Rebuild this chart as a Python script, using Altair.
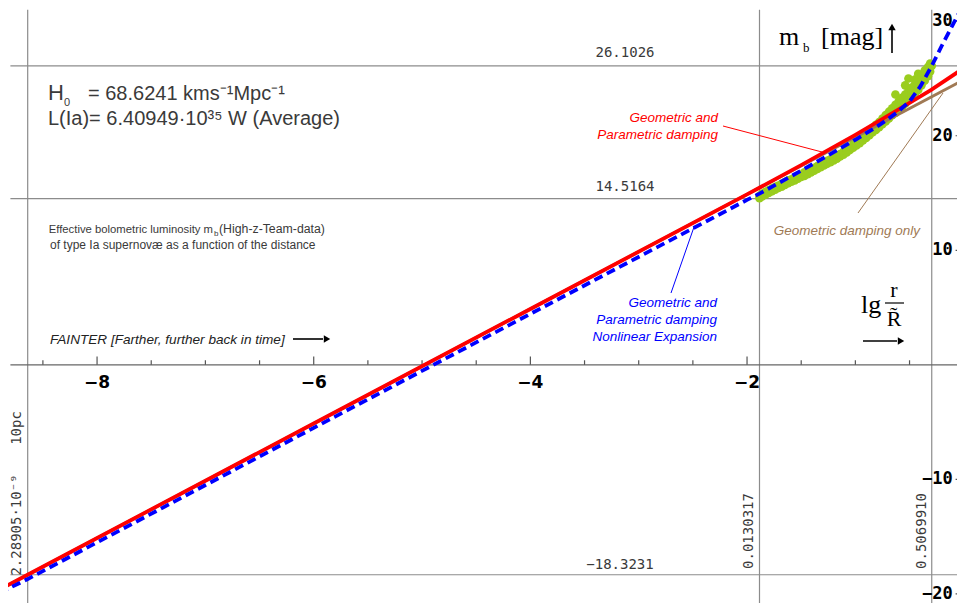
import altair as alt
import pandas as pd

# ---------------- data ----------------
X_DOMAIN = [-8.896, 0.012]
Y_DOMAIN = [-20.79, 31.85]
W, H = 965, 603

red_x = [-8.9, -8.6403, -6.0, -4.0, -2.0, -1.5, -1.0, -0.6, -0.3, 0.0, 0.02]
red_y = [-19.62, -18.32, -5.12, 4.88, 14.88, 17.43, 20.08, 22.30, 24.00, 25.90, 26.05]

brown_x = [-8.9, 0.02]
brown_y = [-19.62, 24.98]

blue_x = [-8.9, -8.64, -6.0, -4.0, -2.0, -1.885, -1.5, -1.0, -0.8, -0.7, -0.6,
          -0.5, -0.4, -0.295, -0.2, -0.1, 0.0, 0.02]
blue_y = [-19.9, -18.7, -5.5, 4.45, 14.4, 14.95, 16.95, 19.65, 20.8, 21.45, 22.15,
          23.0, 24.3, 26.1, 27.9, 29.7, 31.5, 31.9]

green_x = [-1.885, -1.885, -1.86, -1.86, -1.83, -1.83, -1.80, -1.80, -1.77, -1.77,
           -1.74, -1.74, -1.71, -1.71, -1.68, -1.68, -1.65, -1.65, -1.62, -1.62,
           -1.59, -1.59, -1.56, -1.56, -1.53, -1.53, -1.50, -1.50, -1.47, -1.47,
           -1.44, -1.44, -1.41, -1.41, -1.38, -1.38, -1.35, -1.35, -1.32, -1.32,
           -1.29, -1.29, -1.26, -1.26, -1.23, -1.23, -1.20, -1.20, -1.17, -1.17,
           -1.14, -1.14, -1.11, -1.11, -1.08, -1.08, -1.05, -1.05, -1.02, -1.02,
           -0.99, -0.99, -0.96, -0.96, -0.93, -0.93, -0.90, -0.90, -0.87, -0.87,
           -0.84, -0.84, -0.81, -0.81, -0.78, -0.78, -0.75, -0.75,
           -0.72, -0.72, -0.72, -0.69, -0.69, -0.69, -0.66, -0.66, -0.66,
           -0.63, -0.63, -0.63, -0.60, -0.60, -0.60, -0.57, -0.57, -0.57,
           -0.54, -0.54, -0.54, -0.51, -0.51, -0.51, -0.48, -0.48, -0.48,
           -0.45, -0.45, -0.45, -0.42, -0.42, -0.42, -0.39, -0.39, -0.39,
           -0.36, -0.36, -0.36, -0.33, -0.33, -0.33, -0.31, -0.31, -0.295]
green_y = [14.55, 14.75, 14.70, 14.95, 14.85, 15.10, 15.00, 15.25, 15.15, 15.40,
           15.30, 15.55, 15.45, 15.65, 15.55, 15.80, 15.70, 15.95, 15.85, 16.10,
           16.00, 16.20, 16.10, 16.35, 16.25, 16.50, 16.40, 16.60, 16.50, 16.80,
           16.65, 16.90, 16.80, 17.05, 16.95, 17.20, 17.10, 17.35, 17.25, 17.45,
           17.40, 17.60, 17.55, 17.80, 17.70, 17.95, 17.85, 18.10, 18.00, 18.25,
           18.20, 18.40, 18.35, 18.60, 18.55, 18.80, 18.75, 19.00, 18.95, 19.25,
           19.15, 19.50, 19.35, 19.70, 19.60, 19.95, 19.80, 20.20, 20.05, 20.45,
           20.30, 20.70, 20.50, 20.95, 20.75, 21.20, 21.00, 21.50,
           21.25, 21.80, 21.50, 21.50, 22.10, 21.75, 21.80, 22.40, 22.10,
           22.00, 22.70, 23.60, 22.30, 23.00, 22.60, 22.50, 23.30, 22.90,
           22.80, 23.60, 24.40, 23.10, 23.90, 25.00, 23.40, 24.20, 23.80,
           23.70, 24.50, 24.90, 24.00, 24.90, 25.40, 24.40, 25.30, 24.80,
           24.80, 25.70, 25.30, 25.20, 26.00, 25.60, 25.60, 26.30, 26.10]

h_lines = [26.1026, 14.5164, -18.3231]
v_lines = [-8.64034, -1.88500, -0.29500]

x_ticks = [-8.5, -8.0, -7.5, -7.0, -6.5, -6.0, -5.5, -5.0, -4.5, -4.0, -3.5,
           -3.0, -2.5, -2.0, -1.5, -1.0, -0.5]
x_label_at = [-8, -6, -4, -2]
x_labels = ["\u22128", "\u22126", "\u22124", "\u22122"]

y_ticks = [-20, -18, -16, -14, -12, -10, -8, -6, -4, -2, 2, 4, 6, 8, 10, 12,
           14, 16, 18, 20, 22, 24, 26, 28, 30]
y_label_at = [30, 20, 10, -10, -20]
y_labels = ["30", "20", "10", "\u221210", "\u221220"]

# ---------------- helpers ----------------
xsc = alt.Scale(domain=X_DOMAIN, nice=False, zero=False)
ysc = alt.Scale(domain=Y_DOMAIN, nice=False, zero=False)


def XQ(f):
    return alt.X(f, type="quantitative", scale=xsc, axis=None)


def YQ(f):
    return alt.Y(f, type="quantitative", scale=ysc, axis=None)


GRID = "#8c8c8c"
TXT = "#3a3a3a"
SANS = "Liberation Sans, Arial, sans-serif"
SERIF = "Liberation Serif, Times New Roman, serif"
MONO = "DejaVu Sans Mono, monospace"

one = pd.DataFrame({"t": [""]})


def txt(text, px, py, **kw):
    return alt.Chart(pd.DataFrame({"t": [text]})).mark_text(**kw).encode(
        x=alt.value(px), y=alt.value(py), text="t:N")


def seg(x1, y1, x2, y2, color, width=1.0):
    return alt.Chart(one).mark_rule(color=color, strokeWidth=width).encode(
        x=alt.value(x1), y=alt.value(y1), x2=alt.value(x2), y2=alt.value(y2))


def head(px, py, shape, size=70, color="black"):
    return alt.Chart(one).mark_point(shape=shape, filled=True, size=size,
                                     color=color, opacity=1).encode(
        x=alt.value(px), y=alt.value(py))


layers = []

# reference lines
hdf = pd.DataFrame({"y": h_lines})
hdf["x0"] = -8.80
hdf["x1"] = X_DOMAIN[1]
layers.append(alt.Chart(hdf).mark_rule(color=GRID, strokeWidth=1.2).encode(
    x=XQ("x0"), x2="x1", y=YQ("y")))
vdf = pd.DataFrame({"x": v_lines})
vdf["y0"] = Y_DOMAIN[0]
vdf["y1"] = 31.0
layers.append(alt.Chart(vdf).mark_rule(color=GRID, strokeWidth=1.2).encode(
    x=XQ("x"), y=YQ("y0"), y2="y1"))

# axes lines
layers.append(alt.Chart(pd.DataFrame({"y": [0.0], "x0": [-8.80], "x1": [X_DOMAIN[1]]}))
              .mark_rule(color="#666666", strokeWidth=1.3).encode(x=XQ("x0"), x2="x1", y=YQ("y")))
layers.append(alt.Chart(pd.DataFrame({"x": [0.0], "y0": [Y_DOMAIN[0]], "y1": [Y_DOMAIN[1]]}))
              .mark_rule(color="#666666", strokeWidth=1.3).encode(x=XQ("x"), y=YQ("y0"), y2="y1"))

# x ticks
xt = pd.DataFrame({"x": x_ticks})
xt["y0"] = 0.0
xt["y1"] = [0.72 if v in x_label_at else 0.40 for v in x_ticks]
layers.append(alt.Chart(xt).mark_rule(color="#555555", strokeWidth=1.2).encode(
    x=XQ("x"), y=YQ("y0"), y2="y1"))
layers.append(alt.Chart(pd.DataFrame({"x": x_label_at, "y": 0.0, "t": x_labels}))
              .mark_text(font="DejaVu Sans", fontWeight="bold", fontSize=17,
                         baseline="middle", dy=18, color="black")
              .encode(x=XQ("x"), y=YQ("y"), text="t:N"))

# y ticks
yt = pd.DataFrame({"y": y_ticks})
yt["x0"] = 0.0
yt["x1"] = [-0.075 if v in y_label_at else -0.04 for v in y_ticks]
layers.append(alt.Chart(yt).mark_rule(color="#555555", strokeWidth=1.2).encode(
    x=XQ("x0"), x2="x1", y=YQ("y")))
layers.append(alt.Chart(pd.DataFrame({"y": y_label_at, "x": 0.0, "t": y_labels}))
              .mark_text(font=MONO, fontWeight="bold", fontSize=17, align="right",
                         baseline="middle", dx=-11, color="black")
              .encode(x=XQ("x"), y=YQ("y"), text="t:N"))

# data and curves
layers.append(alt.Chart(pd.DataFrame({"x": green_x, "y": green_y}))
              .mark_circle(size=75, color="#9acd1e", opacity=1, clip=True)
              .encode(x=XQ("x"), y=YQ("y")))
layers.append(alt.Chart(pd.DataFrame({"x": brown_x, "y": brown_y}))
              .mark_line(color="#a07a55", strokeWidth=3, clip=True)
              .encode(x=XQ("x"), y=YQ("y")))
layers.append(alt.Chart(pd.DataFrame({"x": red_x, "y": red_y}))
              .mark_line(color="#ff0000", strokeWidth=3.8, clip=True)
              .encode(x=XQ("x"), y=YQ("y")))
layers.append(alt.Chart(pd.DataFrame({"x": blue_x, "y": blue_y}))
              .mark_line(color="#0000ff", strokeWidth=3.8, strokeDash=[9, 5], clip=True)
              .encode(x=XQ("x"), y=YQ("y")))

# value labels on reference lines
layers.append(txt("26.1026", 625, 53, font=MONO, fontSize=14, color=TXT, align="center", baseline="middle"))
layers.append(txt("14.5164", 625, 187, font=MONO, fontSize=14, color=TXT, align="center", baseline="middle"))
layers.append(txt("\u221218.3231", 620, 565, font=MONO, fontSize=14, color=TXT, align="center", baseline="middle"))
layers.append(txt("0.0130317", 749, 531, font=MONO, fontSize=14, color=TXT, align="center", baseline="middle", angle=270))
layers.append(txt("0.5069910", 922, 531, font=MONO, fontSize=14, color=TXT, align="center", baseline="middle", angle=270))
layers.append(txt("2.28905\u00b710\u207b\u2079", 17, 525, font=MONO, fontSize=14, color=TXT, align="center", baseline="middle", angle=270))
layers.append(txt("10pc", 17, 428, font=MONO, fontSize=14, color=TXT, align="center", baseline="middle", angle=270))

# big parameter text
layers.append(txt("H", 48, 100, font=SANS, fontSize=22, color=TXT, align="left", baseline="alphabetic"))
layers.append(txt("0", 64, 106, font=SANS, fontSize=11, color=TXT, align="left", baseline="alphabetic"))
layers.append(txt("= 68.6241 kms\u207b\u00b9Mpc\u207b\u00b9", 88, 100, font=SANS, fontSize=20, color=TXT, align="left", baseline="alphabetic"))
layers.append(txt("L(Ia)= 6.40949\u00b710\u00b3\u2075 W (Average)", 48, 125, font=SANS, fontSize=20, color=TXT, align="left", baseline="alphabetic"))

# description
layers.append(txt("Effective bolometric luminosity m", 213, 233, font=SANS, fontSize=11.3, color=TXT, align="right", baseline="alphabetic"))
layers.append(txt("b", 214, 236, font=SANS, fontSize=8, color=TXT, align="left", baseline="alphabetic"))
layers.append(txt("(High-z-Team-data)", 219, 233, font=SANS, fontSize=12.3, color=TXT, align="left", baseline="alphabetic"))
layers.append(txt("of type Ia supernov\u00e6 as a function of the distance", 50, 249, font=SANS, fontSize=12, color=TXT, align="left", baseline="alphabetic"))

# fainter arrow
layers.append(txt("FAINTER [Farther, further back in time]", 50, 344, font=SANS, fontSize=13.6, fontStyle="italic", color="#222222", align="left", baseline="alphabetic"))
layers.append(seg(293, 339, 323, 339, "black", 1.6))
layers.append(head(327, 339, "triangle-right", 55))

# m_b [mag]
layers.append(txt("m", 779, 45, font=SERIF, fontSize=26, color="black", align="left", baseline="alphabetic"))
layers.append(txt("b", 803, 52, font=SERIF, fontSize=13, color="black", align="left", baseline="alphabetic"))
layers.append(txt("[mag]", 821, 45, font=SERIF, fontSize=26, color="black", align="left", baseline="alphabetic"))
layers.append(seg(892, 53, 892, 30, "black", 1.6))
layers.append(head(892, 27, "triangle-up", 55))

# lg r / R
layers.append(txt("lg", 861, 313, font=SERIF, fontSize=26, color="black", align="left", baseline="alphabetic"))
layers.append(txt("r", 894, 297, font=SERIF, fontSize=22, color="black", align="center", baseline="alphabetic"))
layers.append(seg(885, 303, 904, 303, "black", 1.2))
layers.append(txt("R\u0303", 894, 326, font=SERIF, fontSize=22, color="black", align="center", baseline="alphabetic"))
layers.append(seg(863, 341, 897, 341, "black", 1.6))
layers.append(head(901, 341, "triangle-right", 55))

# curve annotations
ANN = dict(font=SANS, fontSize=13.5, fontStyle="italic", align="right", baseline="middle")
layers.append(txt("Geometric and", 718, 118, color="#ff0000", **ANN))
layers.append(txt("Parametric damping", 718, 135, color="#ff0000", **ANN))
layers.append(seg(723, 126, 822, 152, "#ff0000", 1))

layers.append(txt("Geometric damping only", 920, 231, color="#a07a55", **ANN))
layers.append(seg(858, 213, 943, 93, "#a07a55", 1))

layers.append(txt("Geometric and", 717, 303, color="#0000ff", **ANN))
layers.append(txt("Parametric damping", 717, 320, color="#0000ff", **ANN))
layers.append(txt("Nonlinear Expansion", 717, 337, color="#0000ff", **ANN))
layers.append(seg(671, 293, 694, 227, "#0000ff", 1))

chart = alt.layer(*layers).properties(
    width=W, height=H,
    autosize="none",
    padding={"left": -8, "top": -8, "right": -8, "bottom": 0},
    background="white",
).configure_view(stroke=None)

chart.save("out.html", embed_options={"renderer": "svg", "actions": False})
